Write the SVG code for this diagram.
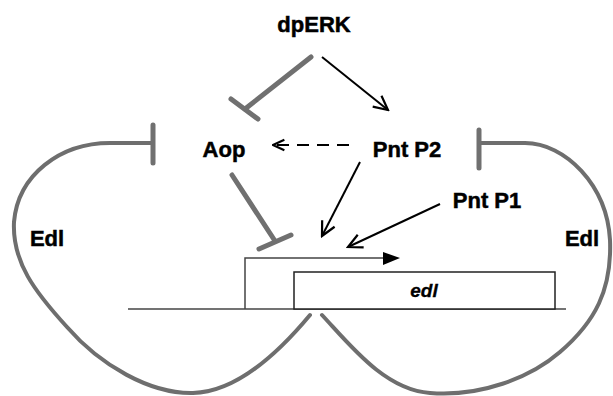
<svg xmlns="http://www.w3.org/2000/svg" width="613" height="396" viewBox="0 0 613 396">
<style>
.lbl{font-family:"Liberation Sans",Arial,sans-serif;font-weight:bold;font-size:22px;fill:#000;stroke:#000;stroke-width:0.5}
.gene{font-family:"Liberation Sans",Arial,sans-serif;font-weight:bold;font-style:italic;font-size:19px;fill:#000;stroke:#000;stroke-width:0.3}
.act{stroke:#000;stroke-width:2;fill:none}
.inh{stroke:#707070;stroke-width:5;fill:none;stroke-linecap:round}
.loop{stroke:#6e6e6e;stroke-width:4;fill:none;stroke-linecap:round}
.dna{stroke:#444;stroke-width:1.5;fill:none}
</style>
<defs>
<marker id="open" viewBox="0 0 18 18" refX="16" refY="9" markerWidth="18" markerHeight="18" markerUnits="userSpaceOnUse" orient="auto">
<path d="M2,2 L16,9 L2,16" fill="none" stroke="#000" stroke-width="2.2"/>
</marker>
<marker id="open-small" viewBox="0 0 16 16" refX="15" refY="8" markerWidth="14" markerHeight="14" markerUnits="userSpaceOnUse" orient="auto">
<path d="M2,2 L15,8 L2,14" fill="none" stroke="#000" stroke-width="2.4"/>
</marker>
</defs>
<rect width="613" height="396" fill="#fff"/>
<g id="connectors">
<path class="loop" d="M310,315 C285,345 240,392 193,393 C150,394 100,365 67,327 C35,292 12,262 14,222 C18,175 60,143 110,143 L153,143"/>
<line class="inh" x1="153" y1="125" x2="153" y2="163"/>
<path class="loop" d="M322,315 C350,345 385,390 430,393 C480,397 530,378 560,352 C595,322 612,290 610,240 C607,185 565,143 525,143 L479,143"/>
<line class="inh" x1="479" y1="130" x2="479" y2="168"/>
<line class="inh" x1="311" y1="57" x2="245" y2="109"/>
<line class="inh" x1="231" y1="99" x2="258" y2="119"/>
<line class="inh" x1="232" y1="175" x2="275" y2="241"/>
<line class="inh" x1="259" y1="249" x2="291" y2="235"/>
<line class="act" x1="322" y1="57" x2="388" y2="110" marker-end="url(#open)"/>
<line class="act" x1="360" y1="162" x2="322" y2="236" marker-end="url(#open)"/>
<line class="act" x1="440" y1="204" x2="348" y2="247" marker-end="url(#open)"/>
<line class="act" x1="349" y1="145" x2="273" y2="145" stroke-dasharray="12 8" marker-end="url(#open-small)"/>
</g>
<g id="dpERK"><text class="lbl" x="314" y="32" text-anchor="middle">dpERK</text></g>
<g id="Aop"><text class="lbl" x="224" y="157" text-anchor="middle">Aop</text></g>
<g id="PntP2"><text class="lbl" x="407" y="157" text-anchor="middle">Pnt P2</text></g>
<g id="PntP1"><text class="lbl" x="487" y="208" text-anchor="middle">Pnt P1</text></g>
<g id="Edl-left"><rect x="22" y="226" width="44" height="31" fill="#fff"/><text class="lbl" x="47" y="246" text-anchor="middle">Edl</text></g>
<g id="Edl-right"><text class="lbl" x="582" y="246" text-anchor="middle">Edl</text></g>
<g id="edl-gene">
<line class="dna" x1="128" y1="309" x2="566" y2="309"/>
<polyline class="dna" points="245,309 245,258 386,258"/>
<polygon points="383,252 400,258 383,265" fill="#000"/>
<rect x="294" y="272" width="261" height="37" fill="#fff" stroke="#222" stroke-width="1.5"/>
<text class="gene" x="424" y="297" text-anchor="middle">edl</text>
</g>
</svg>
